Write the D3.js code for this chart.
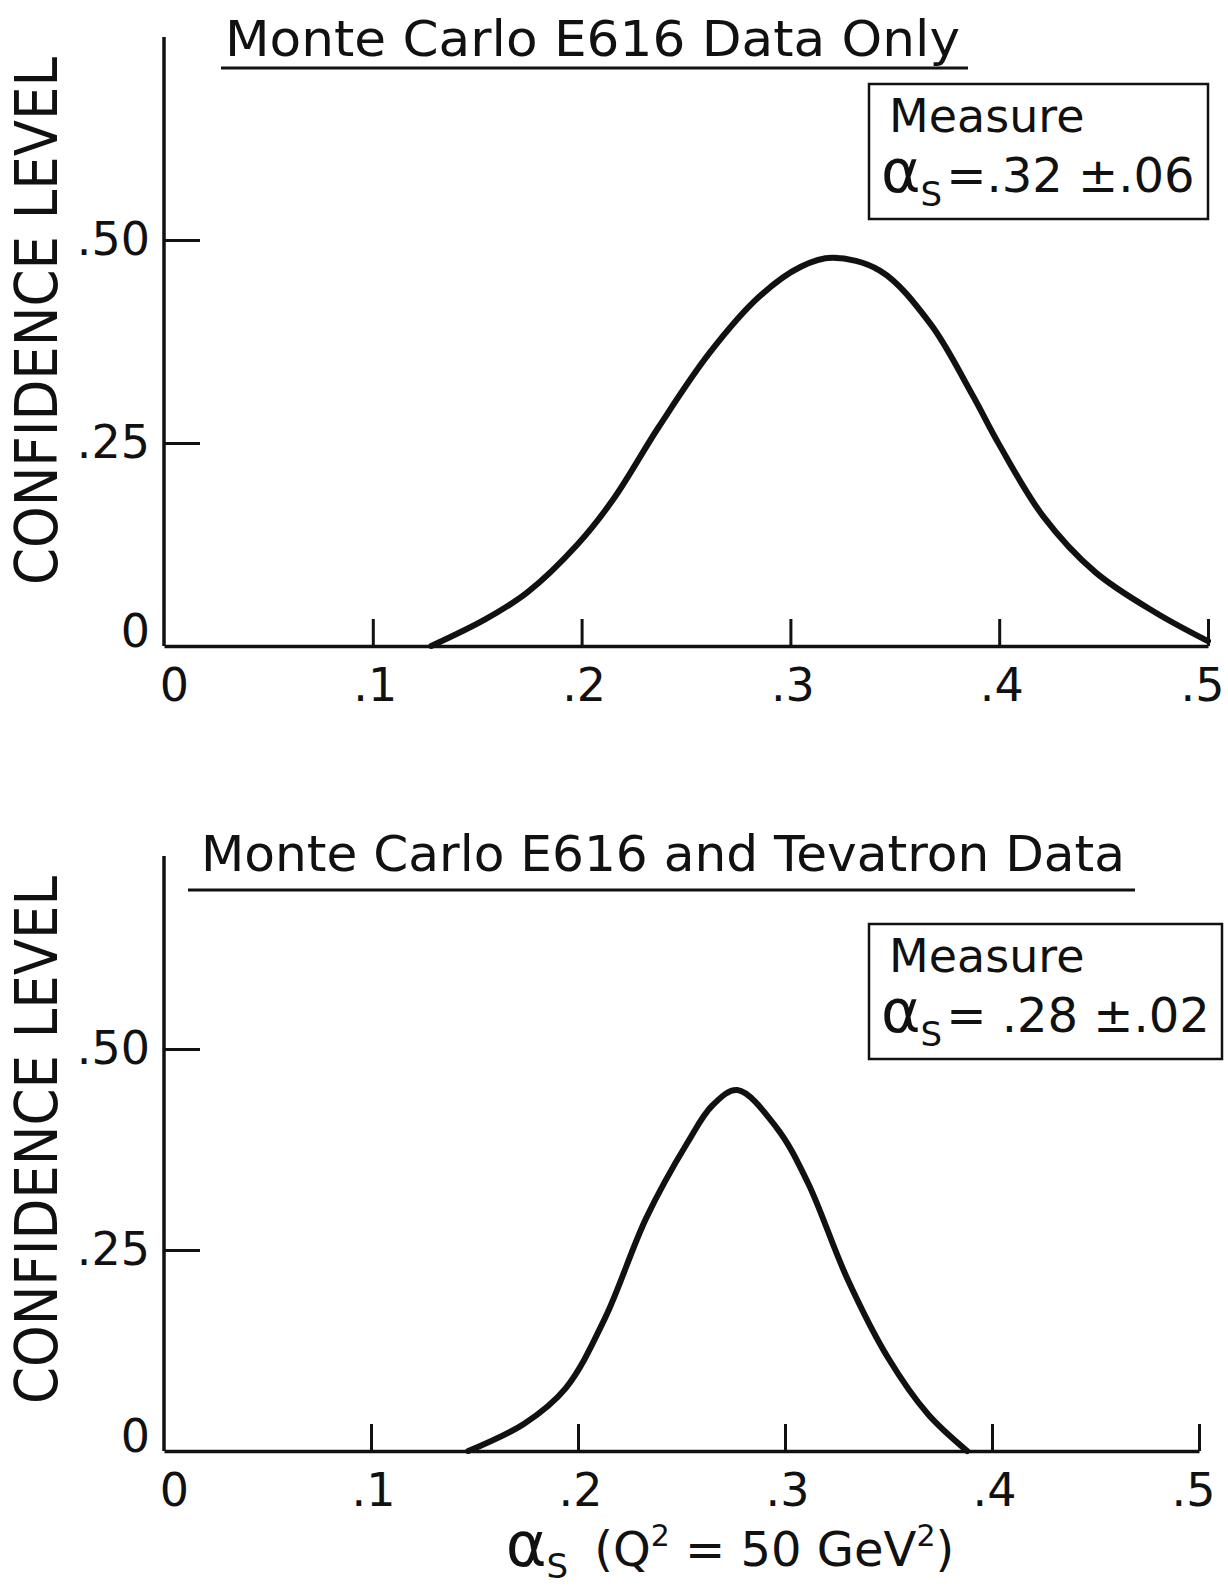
<!DOCTYPE html>
<html>
<head>
<meta charset="utf-8">
<title>Confidence level vs alpha_s</title>
<script src="https://d3js.org/d3.v7.min.js"></script>
<style>
  body { margin: 0; background: #fff; }
  text { font-family: "DejaVu Sans", sans-serif; fill: #111; }
</style>
</head>
<body>
<script>
// tick values and labels
const xTicks = [0, 0.1, 0.2, 0.3, 0.4, 0.5];
const xTickLabels = ["0", ".1", ".2", ".3", ".4", ".5"];
const yTicks = [0, 0.25, 0.5];
const yTickLabels = ["0", ".25", ".50"];

// top panel: E616 data only
const topAlpha = [0.128, 0.154, 0.174, 0.198, 0.215, 0.237, 0.261, 0.285, 0.305, 0.32, 0.343, 0.367, 0.387, 0.40, 0.421, 0.446, 0.475, 0.50];
const topCL    = [0.0, 0.033, 0.066, 0.125, 0.18, 0.27, 0.36, 0.43, 0.467, 0.478, 0.462, 0.397, 0.31, 0.248, 0.16, 0.091, 0.041, 0.006];

// bottom panel: E616 and Tevatron data
const botAlpha = [0.147, 0.174, 0.194, 0.213, 0.233, 0.253, 0.265, 0.277, 0.296, 0.311, 0.33, 0.35, 0.369, 0.388];
const botCL    = [0.0, 0.034, 0.078, 0.165, 0.29, 0.384, 0.43, 0.449, 0.402, 0.334, 0.215, 0.115, 0.046, 0.0];

const titles = ["Monte Carlo E616 Data Only", "Monte Carlo E616 and Tevatron Data"];
const measures = ["=.32 \u00b1.06", "= .28 \u00b1.02"];

const W = 1228, H = 1589;
const svg = d3.select("body").append("svg")
    .attr("width", W)
    .attr("height", H);

// layout of the two panels
const panels = [
  { alpha: topAlpha, cl: topCL, title: titles[0], measure: measures[0],
    x0: 164, x1: 1208, y0: 646, yHalf: 240, yTop: 0.75,
    titleX: 225, titleW: 735, titleY: 56, ulX0: 221, ulX1: 968, ulY: 68,
    box: [869, 84, 339, 135], labelCY: 321 },
  { alpha: botAlpha, cl: botCL, title: titles[1], measure: measures[1],
    x0: 164, x1: 1199, y0: 1451, yHalf: 1049, yTop: 0.74,
    titleX: 201, titleW: 924, titleY: 871, ulX0: 188, ulX1: 1135, ulY: 890,
    box: [869, 924, 353, 135], labelCY: 1140 }
];

panels.forEach(function(p, i) {
  const x = d3.scaleLinear().domain([0, 0.5]).range([p.x0, p.x1]);
  const y = d3.scaleLinear().domain([0, 0.5]).range([p.y0, p.yHalf]);
  const g = svg.append("g");

  // x axis, ticks pointing up
  const xAxis = d3.axisBottom(x)
      .tickValues(xTicks)
      .tickSizeInner(-27)
      .tickSizeOuter(0)
      .tickPadding(22)
      .tickFormat(function(d, j) { return xTickLabels[j]; });
  const gx = g.append("g")
      .attr("transform", "translate(0," + p.y0 + ")")
      .call(xAxis);
  gx.select(".domain").attr("stroke", "#111").attr("stroke-width", 3.5);
  gx.selectAll(".tick line").attr("stroke", "#111").attr("stroke-width", 3)
      .attr("opacity", function(d) { return d === 0 ? 0 : 1; });
  gx.selectAll(".tick text")
      .attr("font-size", 46)
      .attr("dx", function(d) { return d === 0 ? 10 : (d === 0.5 ? -6 : 2); })
      .style("font-family", "DejaVu Sans");

  // y axis, ticks pointing right
  const yAxis = d3.axisLeft(y)
      .tickValues(yTicks)
      .tickSizeInner(-36)
      .tickSizeOuter(0)
      .tickPadding(14)
      .tickFormat(function(d, j) { return yTickLabels[j]; });
  const gy = g.append("g")
      .attr("transform", "translate(" + p.x0 + ",0)")
      .call(yAxis);
  gy.select(".domain").remove();
  gy.append("line")
      .attr("x1", 0).attr("x2", 0)
      .attr("y1", y(0)).attr("y2", y(p.yTop))
      .attr("stroke", "#111").attr("stroke-width", 3.5);
  gy.selectAll(".tick line").attr("stroke", "#111").attr("stroke-width", 3)
      .attr("opacity", function(d) { return d === 0 ? 0 : 1; });
  gy.selectAll(".tick text")
      .attr("font-size", 46)
      .attr("dy", function(d) { return d === 0 ? "0.0em" : "0.32em"; })
      .style("font-family", "DejaVu Sans");

  // y label
  g.append("text")
      .attr("transform", "translate(57," + p.labelCY + ") rotate(-90)")
      .attr("text-anchor", "middle")
      .attr("font-size", 58)
      .attr("textLength", 528)
      .attr("lengthAdjust", "spacingAndGlyphs")
      .text("CONFIDENCE  LEVEL");

  // title with underline
  g.append("text")
      .attr("x", p.titleX)
      .attr("y", p.titleY)
      .attr("font-size", 50)
      .attr("textLength", p.titleW)
      .attr("lengthAdjust", "spacingAndGlyphs")
      .text(p.title);
  g.append("line")
      .attr("x1", p.ulX0).attr("x2", p.ulX1)
      .attr("y1", p.ulY).attr("y2", p.ulY)
      .attr("stroke", "#111").attr("stroke-width", 3);

  // measurement box
  g.append("rect")
      .attr("x", p.box[0]).attr("y", p.box[1])
      .attr("width", p.box[2]).attr("height", p.box[3])
      .attr("fill", "none").attr("stroke", "#111").attr("stroke-width", 2.5);
  g.append("text")
      .attr("x", p.box[0] + 20)
      .attr("y", p.box[1] + 48)
      .attr("font-size", 46)
      .text("Measure");
  const m = g.append("text")
      .attr("x", p.box[0] + 12)
      .attr("y", p.box[1] + 108)
      .attr("font-size", 48);
  m.append("tspan").attr("font-size", 60).text("\u03b1");
  m.append("tspan").attr("font-size", 34).attr("dy", 14).text("S");
  m.append("tspan").attr("dy", -14).attr("dx", 4).text(p.measure);

  // curve
  const line = d3.line()
      .x(function(d) { return x(d[0]); })
      .y(function(d) { return y(d[1]); })
      .curve(d3.curveCatmullRom.alpha(0.5));
  g.append("path")
      .datum(d3.zip(p.alpha, p.cl))
      .attr("fill", "none")
      .attr("stroke", "#111")
      .attr("stroke-width", 6)
      .attr("stroke-linecap", "round")
      .attr("d", line);
});

// x axis title below the bottom panel
const xt = svg.append("text")
    .attr("x", 730)
    .attr("y", 1566)
    .attr("text-anchor", "middle")
    .attr("font-size", 48);
xt.append("tspan").attr("font-size", 62).text("\u03b1");
xt.append("tspan").attr("font-size", 34).attr("dy", 12).text("S");
xt.append("tspan").attr("dy", -12).attr("dx", 26).text("(Q");
xt.append("tspan").attr("font-size", 30).attr("dy", -20).text("2");
xt.append("tspan").attr("dy", 20).text(" = 50 GeV");
xt.append("tspan").attr("font-size", 30).attr("dy", -20).text("2");
xt.append("tspan").attr("dy", 20).text(")");
</script>
</body>
</html>
